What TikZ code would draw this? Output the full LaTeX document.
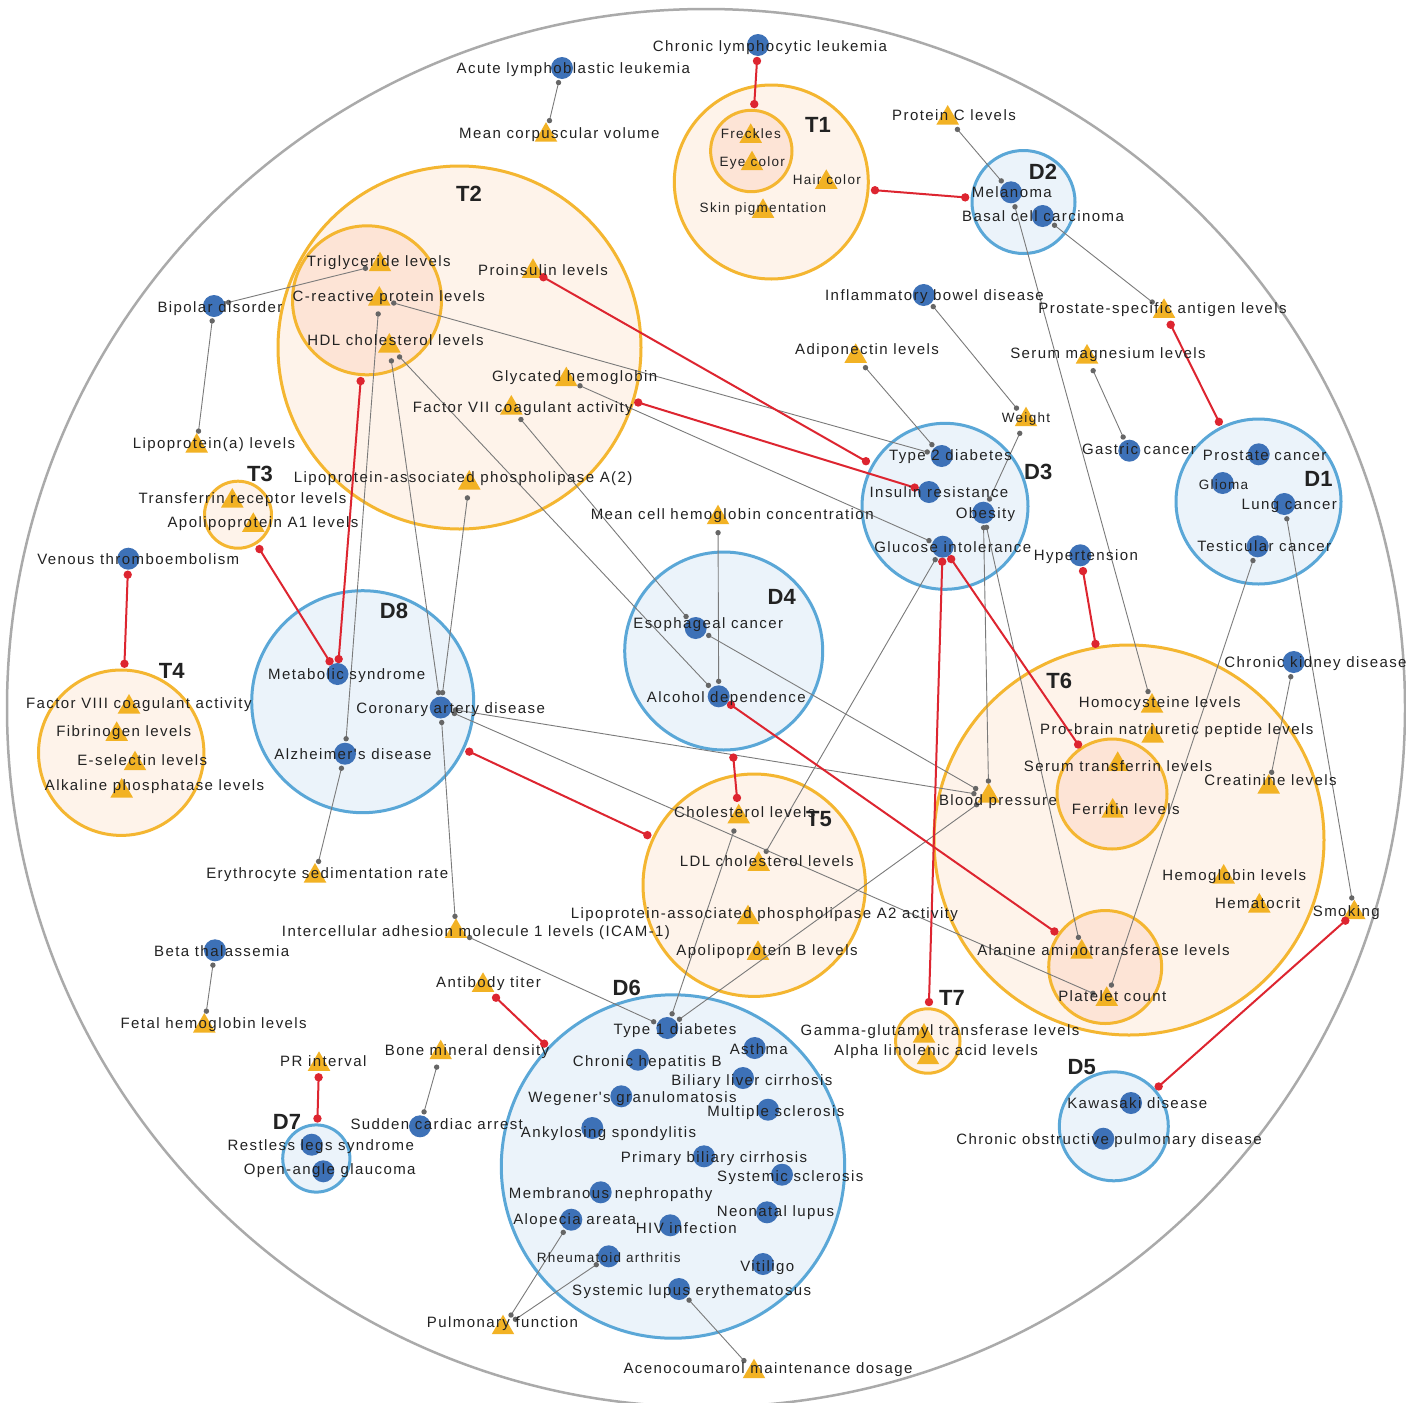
\documentclass[tikz,border=0pt]{standalone}
\usepackage{fontspec}
\setmainfont{Liberation Sans}
\newfontfamily\lblfont[LetterSpace=9.5]{Liberation Sans}
\usetikzlibrary{calc,shapes.geometric}

\definecolor{cRing}{HTML}{AAAAAA}
\definecolor{cTline}{HTML}{F4B631}
\definecolor{cTfill}{HTML}{FEF3EA}
\definecolor{cTinner}{HTML}{FDE4D6}
\definecolor{cDline}{HTML}{5AA7D7}
\definecolor{cDfill}{HTML}{EBF3FA}
\definecolor{cBlue}{HTML}{3D71B7}
\definecolor{cTri}{HTML}{F2B224}
\definecolor{cRed}{HTML}{DD2530}
\definecolor{cLink}{HTML}{7A7A7A}
\definecolor{cDot}{HTML}{666666}
\definecolor{cInk}{HTML}{222222}

\pgfdeclarelayer{clusters}
\pgfdeclarelayer{markers}
\pgfdeclarelayer{links}
\pgfsetlayers{clusters,markers,links,main}

\tikzset{
  ring/.style={circle, draw=cRing, line width=2.5pt, inner sep=0},
  tout/.style={circle, draw=cTline, fill=cTfill, line width=3pt, inner sep=0},
  tin/.style={circle, draw=cTline, fill=cTinner, line width=3pt, inner sep=0},
  dclus/.style={circle, draw=cDline, fill=cDfill, line width=3pt, inner sep=0},
  dis/.style={circle, fill=cBlue, inner sep=0, minimum size=22},
  trait/.style={regular polygon, regular polygon sides=3, fill=cTri, inner sep=0, minimum size=26},
  lbl/.style={font=\lblfont\fontsize{15}{15}\selectfont, text=cInk, anchor=base, inner sep=0},
  slbl/.style={lbl, font=\lblfont\fontsize{13.5}{13.5}\selectfont},
  clbl/.style={font=\bfseries\fontsize{22}{22}\selectfont, text=cInk, anchor=base, inner sep=0},
  glinkline/.style={draw=cLink, line width=0.9pt},
  glinkdot/.style={fill=cDot},
  rlinkline/.style={draw=cRed, line width=2pt},
  rlinkdot/.style={fill=cRed},
}

% disease marker (blue disc) with its label
\newcommand\disnode[7][lbl]{%
  \begin{pgfonlayer}{markers}\node[dis] (#2) at (#3,#4) {};\end{pgfonlayer}%
  \node[#1] (#2-t) at (#5,#6+5.5) {#7};}
% trait marker (orange triangle) with its label
\newcommand\trnode[7][lbl]{%
  \begin{pgfonlayer}{markers}\node[trait] (#2) at (#3,#4+3) {};\end{pgfonlayer}%
  \node[#1] (#2-t) at (#5,#6+5.5) {#7};}
% thin grey association with end dots
\newcommand\glink[2]{%
  \begin{pgfonlayer}{links}%
  \draw[glinkline] ($(#1.center)!15pt!(#2.center)$) -- ($(#2.center)!15pt!(#1.center)$);%
  \fill[glinkdot] ($(#1.center)!15pt!(#2.center)$) circle (2.7) ($(#2.center)!15pt!(#1.center)$) circle (2.7);%
  \end{pgfonlayer}}
% red association with end dots; #3/#4 = offsets from the centres
\newcommand\rlink[4]{%
  \begin{pgfonlayer}{links}%
  \draw[rlinkline] ($(#1.center)!#3!(#2.center)$) -- ($(#2.center)!#4!(#1.center)$);%
  \fill[rlinkdot] ($(#1.center)!#3!(#2.center)$) circle (4.2) ($(#2.center)!#4!(#1.center)$) circle (4.2);%
  \end{pgfonlayer}}

\begin{document}
\begin{tikzpicture}[x=1pt,y=-1pt]
\useasboundingbox (0,0) rectangle (1406,1403);

\begin{pgfonlayer}{clusters}
  \fill[white] (0,0) rectangle (1406,1403);
  \node[ring, minimum size=1398] (frame) at (706,708) {};
  % trait clusters
  \node[tout, minimum size=194] (T1o) at (771.3,182) {};
  \node[tin, minimum size=81.4] (T1i) at (751.3,151) {};
  \node[tout, minimum size=363] (T2o) at (459.5,347.5) {};
  \node[tin, minimum size=149] (T2i) at (367,300.3) {};
  \node[tout, minimum size=67] (T3) at (238,514.7) {};
  \node[tout, minimum size=165.4] (T4) at (121.2,752.7) {};
  \node[tout, minimum size=222.4] (T5) at (754.2,885.2) {};
  \node[tout, minimum size=390] (T6o) at (1129,840) {};
  \node[tin, minimum size=110] (T6a) at (1112,794) {};
  \node[tin, minimum size=113] (T6b) at (1105.2,967) {};
  \node[tout, minimum size=64.4] (T7) at (927.8,1041) {};
  % disease clusters
  \node[dclus, minimum size=165] (D1) at (1258.5,501.5) {};
  \node[dclus, minimum size=103] (D2) at (1023.5,202) {};
  \node[dclus, minimum size=166] (D3) at (945,506.3) {};
  \node[dclus, minimum size=198] (D4) at (723.7,651) {};
  \node[dclus, minimum size=109] (D5) at (1113.8,1126.3) {};
  \node[dclus, minimum size=343.4] (D6) at (673,1166.5) {};
  \node[dclus, minimum size=67.2] (D7) at (316.3,1158.5) {};
  \node[dclus, minimum size=222] (D8) at (362.7,701.7) {};
\end{pgfonlayer}

% cluster names
\node[clbl] (T1-n) at (818,132.7) {T1};
\node[clbl] (T2-n) at (469,201.7) {T2};
\node[clbl] (T3-n) at (260,481) {T3};
\node[clbl] (T4-n) at (171.7,678.7) {T4};
\node[clbl] (T5-n) at (819,826.3) {T5};
\node[clbl] (T6-n) at (1059.3,688) {T6};
\node[clbl] (T7-n) at (952,1005.7) {T7};
\node[clbl] (D1-n) at (1318.5,486.3) {D1};
\node[clbl] (D2-n) at (1043,179) {D2};
\node[clbl] (D3-n) at (1038.3,479) {D3};
\node[clbl] (D4-n) at (781.8,604) {D4};
\node[clbl] (D5-n) at (1081.8,1074.7) {D5};
\node[clbl] (D6-n) at (626.7,995.7) {D6};
\node[clbl] (D7-n) at (287,1129) {D7};
\node[clbl] (D8-n) at (394,618.7) {D8};

% diseases
\disnode{cll}{758}{45}{770}{46}{Chronic lymphocytic leukemia}
\disnode{all}{562}{68}{573.3}{67.7}{Acute lymphoblastic leukemia}
\disnode{mel}{1011}{192.3}{1011.8}{192}{Melanoma}
\disnode{bcc}{1042.7}{216}{1043}{216}{Basal cell carcinoma}
\disnode{bip}{214}{306}{220}{306.7}{Bipolar disorder}
\disnode{ibd}{923.7}{295}{934.5}{295}{Inflammatory bowel disease}
\disnode{t2d}{941.7}{456}{950.5}{455}{Type 2 diabetes}
\disnode{ins}{929}{492}{939}{491.7}{Insulin resistance}
\disnode{obe}{983.3}{512.7}{985.5}{513.3}{Obesity}
\disnode{glu}{942.7}{546.7}{952.8}{546.7}{Glucose intolerance}
\disnode{gas}{1129.3}{450.7}{1139}{449.3}{Gastric cancer}
\disnode{pro}{1258.7}{454.3}{1264.7}{454.7}{Prostate cancer}
\disnode[slbl]{gli}{1222.7}{483}{1223.5}{484}{Glioma}
\disnode{lun}{1284.3}{504}{1289.3}{504}{Lung cancer}
\disnode{tes}{1257.7}{546.3}{1264.3}{546}{Testicular cancer}
\disnode{hyp}{1080.3}{555.3}{1086}{555}{Hypertension}
\disnode{ckd}{1293.7}{662}{1315.5}{662}{Chronic kidney disease}
\disnode{vte}{128.3}{558.7}{138.3}{558.7}{Venous thromboembolism}
\disnode{met}{337.5}{674}{346.7}{674}{Metabolic syndrome}
\disnode{cad}{440.7}{707.5}{450.7}{708}{Coronary artery disease}
\disnode{alz}{345}{753.7}{353}{754}{Alzheimer's disease}
\disnode{eso}{695.7}{628}{708.3}{623}{Esophageal cancer}
\disnode{alc}{718.7}{696.3}{726.3}{697}{Alcohol dependence}
\disnode{kaw}{1131}{1103}{1137.3}{1103}{Kawasaki disease}
\disnode{cop}{1103.3}{1138.7}{1109}{1139}{Chronic obstructive pulmonary disease}
\disnode{t1d}{667.3}{1028}{675}{1029}{Type 1 diabetes}
\disnode{ast}{754.7}{1048}{758.8}{1049}{Asthma}
\disnode{chb}{638}{1059.7}{647.2}{1060.7}{Chronic hepatitis B}
\disnode{blc}{743}{1078}{751.8}{1079.7}{Biliary liver cirrhosis}
\disnode{weg}{621.3}{1096.3}{632.5}{1097}{Wegener's granulomatosis}
\disnode{mss}{768}{1109.7}{775.8}{1110.7}{Multiple sclerosis}
\disnode{ank}{592.3}{1128}{608.5}{1132}{Ankylosing spondylitis}
\disnode{pbc}{704}{1156.3}{714}{1157}{Primary biliary cirrhosis}
\disnode{ssc}{782}{1174.7}{790.2}{1175.7}{Systemic sclerosis}
\disnode{mem}{600.7}{1192.3}{610.7}{1193}{Membranous nephropathy}
\disnode{neo}{767}{1212.3}{775.5}{1211.3}{Neonatal lupus}
\disnode{alo}{571.3}{1219.7}{574.7}{1219}{Alopecia areata}
\disnode{hiv}{670.3}{1225.3}{686.3}{1228}{HIV infection}
\disnode[slbl]{rhe}{608.7}{1256.3}{608.8}{1257.3}{Rheumatoid arthritis}
\disnode{vit}{763}{1264}{767.2}{1265.7}{Vitiligo}
\disnode{sle}{679}{1289}{691.7}{1289.7}{Systemic lupus erythematosus}
\disnode{sca}{420}{1126.3}{436.7}{1124}{Sudden cardiac arrest}
\disnode{rls}{311.7}{1144.7}{320.8}{1145.3}{Restless legs syndrome}
\disnode{oag}{323.3}{1171.3}{329.7}{1169}{Open-angle glaucoma}
\disnode{bth}{215}{950.3}{221.7}{950.7}{Beta thalassemia}

% traits
\trnode{mcv}{546}{132.2}{559.3}{133}{Mean corpuscular volume}
\trnode[slbl]{fre}{750.7}{133.3}{750.8}{133.3}{Freckles}
\trnode[slbl]{eye}{752}{160.7}{752.3}{160.7}{Eye color}
\trnode[slbl]{hai}{826.3}{179.3}{826.8}{179}{Hair color}
\trnode[slbl]{ski}{763}{208.3}{763}{207.3}{Skin pigmentation}
\trnode{prc}{947.7}{115}{954}{115}{Protein C levels}
\trnode{tri}{380}{261.7}{378.7}{261}{Triglyceride levels}
\trnode{crp}{379.3}{296}{388.8}{296.3}{C-reactive protein levels}
\trnode{hdl}{389.3}{343}{395.5}{340}{HDL cholesterol levels}
\trnode{pin}{533}{268.3}{543}{270}{Proinsulin levels}
\trnode{gly}{566.3}{376.7}{574.7}{376}{Glycated hemoglobin}
\trnode{f7}{511.3}{405}{522.8}{406.7}{Factor VII coagulant activity}
\trnode{lpa2}{469.3}{480}{463.2}{477}{Lipoprotein-associated phospholipase A(2)}
\trnode{lpa}{196.7}{443}{214}{443.3}{Lipoprotein(a) levels}
\trnode{adi}{855.7}{353.3}{867}{349.3}{Adiponectin levels}
\trnode{psa}{1164}{308.3}{1162.5}{308.3}{Prostate-specific antigen levels}
\trnode{mag}{1087}{354}{1108}{353.3}{Serum magnesium levels}
\trnode[slbl]{wei}{1026}{416.7}{1026}{416.7}{Weight}
\trnode{tfr}{232.3}{498}{242.5}{498}{Transferrin receptor levels}
\trnode{apa}{253.3}{522.3}{263}{522}{Apolipoprotein A1 levels}
\trnode{mch}{718}{514.7}{732.2}{513.7}{Mean cell hemoglobin concentration}
\trnode{f8}{129}{704}{138.8}{703}{Factor VIII coagulant activity}
\trnode{fib}{116.7}{731.3}{123.7}{731}{Fibrinogen levels}
\trnode{esl}{135}{760.7}{142.2}{760}{E-selectin levels}
\trnode{alp}{121.7}{788}{154.5}{784.7}{Alkaline phosphatase levels}
\trnode{esr}{315}{873}{327.2}{873}{Erythrocyte sedimentation rate}
\trnode{ica}{456}{928.3}{476}{930.5}{Intercellular adhesion molecule 1 levels (ICAM-1)}
\trnode{chl}{738.7}{813.8}{744.7}{812.3}{Cholesterol levels}
\trnode{ldl}{758.7}{861.3}{766.7}{861.3}{LDL cholesterol levels}
\trnode{lpp}{748}{914.7}{764.5}{913}{Lipoprotein-associated phospholipase A2 activity}
\trnode{apb}{758}{950.3}{767}{949.7}{Apolipoprotein B levels}
\trnode{hom}{1152}{703}{1159.7}{702}{Homocysteine levels}
\trnode{bnp}{1152.7}{733}{1176.8}{729}{Pro-brain natriuretic peptide levels}
\trnode{str}{1117.7}{761.3}{1118}{765.7}{Serum transferrin levels}
\trnode{fer}{1112.7}{808}{1125.7}{808.7}{Ferritin levels}
\trnode{cre}{1268.7}{784}{1270.5}{780.3}{Creatinine levels}
\trnode{bpr}{988.7}{793}{998}{799.7}{Blood pressure}
\trnode{hgb}{1223.7}{874}{1234.3}{874.7}{Hemoglobin levels}
\trnode{hct}{1259.3}{903}{1257.7}{903}{Hematocrit}
\trnode{smo}{1354.3}{909.7}{1346.3}{911}{Smoking}
\trnode{alt}{1081.7}{949}{1103.5}{949.7}{Alanine aminotransferase levels}
\trnode{plt}{1106.7}{996.3}{1112.3}{995.7}{Platelet count}
\trnode{ggt}{924}{1033}{940}{1030}{Gamma-glutamyl transferase levels}
\trnode{ala}{928}{1054.7}{936}{1050}{Alpha linolenic acid levels}
\trnode{abt}{483}{982.3}{488.5}{982}{Antibody titer}
\trnode{bmd}{440.7}{1049.7}{467}{1050}{Bone mineral density}
\trnode{pri}{319}{1061.3}{323.3}{1061.3}{PR interval}
\trnode{fhb}{204.3}{1023}{213.7}{1023}{Fetal hemoglobin levels}
\trnode{pul}{503}{1324.7}{502.5}{1322}{Pulmonary function}
\trnode{ace}{754}{1368.7}{768}{1368}{Acenocoumarol maintenance dosage}

% grey associations
\glink{all}{mcv}
\glink{prc}{mel}
\glink{mel}{hom}
\glink{bcc}{psa}
\glink{bip}{tri}
\glink{bip}{lpa}
\glink{crp}{alz}
\glink{crp}{t2d}
\glink{hdl}{cad}
\glink{hdl}{alc}
\glink{gly}{glu}
\glink{f7}{eso}
\glink{lpa2}{cad}
\glink{adi}{t2d}
\glink{ibd}{wei}
\glink{wei}{obe}
\glink{mag}{gas}
\glink{obe}{bpr}
\glink{obe}{alt}
\glink{glu}{ldl}
\glink{mch}{alc}
\glink{eso}{bpr}
\glink{cad}{bpr}
\glink{cad}{plt}
\glink{cad}{ica}
\glink{alz}{esr}
\glink{tes}{plt}
\glink{lun}{smo}
\glink{ckd}{cre}
\glink{chl}{t1d}
\glink{bpr}{t1d}
\glink{ica}{t1d}
\glink{bth}{fhb}
\glink{bmd}{sca}
\glink{alo}{pul}
\glink{rhe}{pul}
\glink{sle}{ace}

% red associations
\rlink{cll}{T1i}{16pt}{47pt}
\rlink{T1o}{D2}{104pt}{58.5pt}
\rlink{psa}{D1}{15pt}{89pt}
\rlink{pin}{D3}{12pt}{91pt}
\rlink{T2o}{ins}{187pt}{15pt}
\rlink{T2i}{met}{81pt}{15pt}
\rlink{T3}{met}{40.5pt}{15pt}
\rlink{vte}{T4}{16pt}{89pt}
\rlink{glu}{T7}{15pt}{39pt}
\rlink{glu}{T6a}{15pt}{60pt}
\rlink{hyp}{T6o}{16pt}{199pt}
\rlink{alc}{T6b}{15pt}{62pt}
\rlink{D4}{chl}{107pt}{19pt}
\rlink{D8}{T5}{117.7pt}{118pt}
\rlink{abt}{D6}{18pt}{178pt}
\rlink{pri}{D7}{13pt}{40pt}
\rlink{smo}{D5}{12pt}{60pt}

\end{tikzpicture}
\end{document}
